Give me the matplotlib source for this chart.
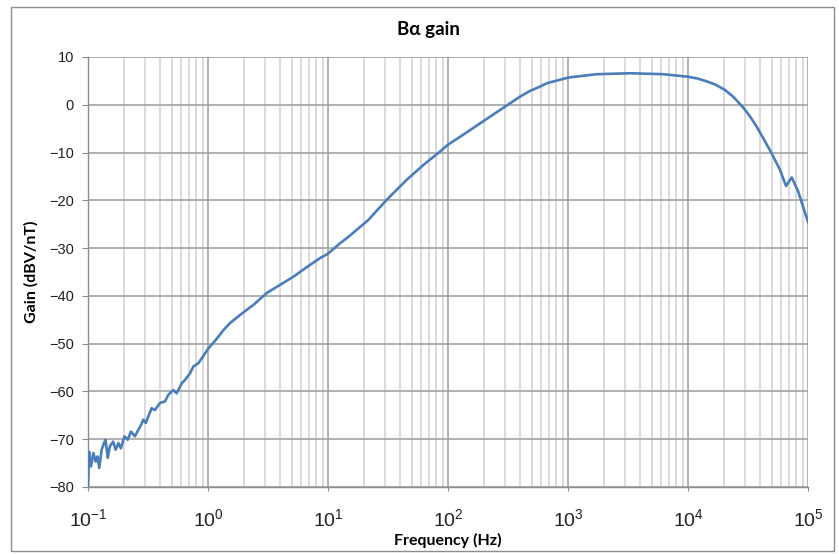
import matplotlib
matplotlib.use("Agg")
import matplotlib.pyplot as plt
from matplotlib.patches import Rectangle
from matplotlib.ticker import FixedLocator, LogLocator, NullFormatter

plt.rcParams["mathtext.fontset"] = "custom"
plt.rcParams["mathtext.rm"] = "Liberation Sans"
plt.rcParams["mathtext.it"] = "Liberation Sans:italic"
plt.rcParams["mathtext.bf"] = "Liberation Sans:bold"

# Frequency sweep (Hz) and measured gain (dBV/nT)
freq_hz = [
    0.100, 0.102, 0.106, 0.111, 0.116, 0.120, 0.124, 0.130, 0.136, 0.140,
    0.146, 0.152, 0.162, 0.170, 0.179, 0.188, 0.201, 0.214, 0.228, 0.246,
    0.263, 0.277, 0.289, 0.303, 0.322, 0.339, 0.361, 0.398, 0.438, 0.467,
    0.514, 0.548, 0.604, 0.643, 0.708, 0.754, 0.830, 0.914, 1.006, 1.074,
    1.144, 1.259, 1.341, 1.525, 1.848, 2.385, 3.085, 3.98, 5.14, 6.64,
    8.58, 9.94, 12.6, 15.2, 21.7, 30.8, 45.3, 62.3, 85.8, 99.4,
    126, 185, 271, 398, 482, 584, 664, 1006, 1735, 3285,
    6225, 9750, 12000, 14320, 17000, 20350, 24000, 28900, 33000, 37400,
    48200, 58400, 65600, 73200, 83000, 94400, 100000,
]
gain_db = [
    -80.0, -72.6, -75.7, -72.9, -74.7, -73.6, -76.0, -72.2, -70.8, -70.1,
    -73.9, -71.5, -70.5, -72.2, -70.8, -71.9, -69.4, -70.1, -68.4, -69.4,
    -68.0, -67.0, -65.9, -66.6, -64.9, -63.5, -63.9, -62.4, -62.1, -60.7,
    -59.7, -60.4, -58.3, -57.6, -56.2, -54.8, -54.1, -52.6, -51.0, -50.2,
    -49.4, -48.1, -47.2, -45.7, -44.0, -41.9, -39.4, -37.7, -36.0, -34.0,
    -32.1, -31.2, -29.0, -27.4, -24.1, -19.9, -15.7, -12.6, -9.8, -8.4,
    -6.7, -3.9, -1.1, 1.7, 2.9, 3.8, 4.5, 5.7, 6.4, 6.6,
    6.4, 5.9, 5.5, 4.9, 4.2, 3.1, 1.6, -0.6, -2.5, -4.6,
    -9.5, -13.6, -17.0, -15.2, -18.2, -22.6, -24.5,
]
x_ticks = [1e-1, 1e0, 1e1, 1e2, 1e3, 1e4, 1e5]
x_tick_labels = [r"$10^{-1}$", r"$10^{0}$", r"$10^{1}$", r"$10^{2}$",
                 r"$10^{3}$", r"$10^{4}$", r"$10^{5}$"]
y_ticks = [-80, -70, -60, -50, -40, -30, -20, -10, 0, 10]

W, H = 839, 554
fig = plt.figure(figsize=(W / 100, H / 100), dpi=100)
ax = fig.add_axes([88 / W, (H - 487) / H, 720 / W, 430 / H])

# outer frame around the whole chart
fig.patches.append(Rectangle((11 / W, 3 / H), 823 / W, 544 / H,
                             transform=fig.transFigure, fill=False,
                             edgecolor="#8c8c8c", linewidth=1.0))

ax.semilogx(freq_hz, gain_db, color="#4a7ebb", linewidth=1.9, zorder=3)

ax.set_xlim(0.1, 1e5)
ax.set_ylim(-80, 10)
ax.set_yticks(y_ticks)
ax.xaxis.set_major_locator(FixedLocator(x_ticks))
ax.set_xticklabels(x_tick_labels)
ax.xaxis.set_minor_locator(LogLocator(base=10, subs=range(2, 10), numticks=100))
ax.xaxis.set_minor_formatter(NullFormatter())
for lbl in ax.get_yticklabels():
    lbl.set_family("Liberation Sans")

ax.grid(True, which="major", axis="both", color="#a3a3a3", linewidth=1.2)
ax.grid(True, which="minor", axis="x", color="#d4d4d4", linewidth=1.2)
ax.set_axisbelow(True)

for side in ("top", "right"):
    ax.spines[side].set_visible(False)
for side in ("left", "bottom"):
    ax.spines[side].set_color("#8c8c8c")
    ax.spines[side].set_linewidth(1.0)

ax.tick_params(axis="y", which="major", length=4, color="#8c8c8c",
               labelsize=10.5, pad=6, labelcolor="#222222")
ax.tick_params(axis="x", which="major", length=3, color="#8c8c8c",
               labelsize=14, pad=12, labelcolor="#222222")
ax.tick_params(axis="x", which="minor", length=0)

fig.text(428 / W, 1 - 30 / H, "B\u03b1 gain", fontsize=13.5, fontweight="bold",
         family=["Lato", "DejaVu Sans"], ha="center", va="center")
ax.set_xlabel("Frequency (Hz)", fontsize=11.5, fontweight="bold",
              family="Lato", labelpad=2)
ax.set_ylabel("Gain (dBV/nT)", fontsize=11.5, fontweight="bold",
              family="Lato", labelpad=8)

fig.savefig("out.png", dpi=100)
